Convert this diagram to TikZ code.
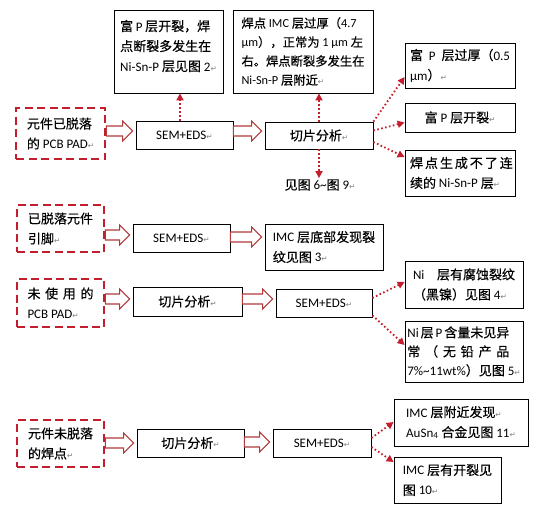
\documentclass[tikz,border=0pt]{standalone}
\usepackage{fontspec}
\setmainfont{Carlito}
\newfontfamily\cjk{Noto Sans CJK SC}[FakeBold=0.35]
\newfontfamily\djv{DejaVu Sans}
\usetikzlibrary{arrows.meta,calc}
% automatic CJK font switching
\XeTeXinterchartokenstate=1
\newXeTeXintercharclass\CJKcls
\newcount\cjkc
\def\setcjkrange#1#2{\cjkc=#1\relax\loop\XeTeXcharclass\cjkc=\CJKcls\relax\ifnum\cjkc<#2\advance\cjkc by 1\relax\repeat}
\setcjkrange{"3000}{"303F}
\setcjkrange{"4E00}{"9FFF}
\setcjkrange{"FF00}{"FFEF}
\XeTeXinterchartoks 0 \CJKcls = {\begingroup\cjk}
\XeTeXinterchartoks 4095 \CJKcls = {\begingroup\cjk}
\XeTeXinterchartoks \CJKcls 0 = {\endgroup}
\XeTeXinterchartoks \CJKcls 4095 = {\endgroup}
\definecolor{dred}{RGB}{195,30,45}
\definecolor{arrred}{RGB}{178,58,58}
\newcommand\ret{{\djv\fontsize{7.5}{8}\selectfont\color{gray}↵}}
\newcommand\fatarrow[3]{%
  \draw[fatarr] let \p1=(#1.east), \p2=(#2.west), \p3=(0,#3) in
   (\x1,\y3+5pt) -- (\x2-13pt,\y3+5pt) -- (\x2-13pt,\y3+10pt) -- (\x2-3pt,\y3)
   -- (\x2-13pt,\y3-10pt) -- (\x2-13pt,\y3-5pt) -- (\x1,\y3-5pt) -- cycle;}
\tikzset{
  every node/.style={font=\fontsize{13}{20}\selectfont, inner sep=0pt},
  box/.style={draw=black, line width=0.8pt, fill=white, align=left},
  dbox/.style={draw=dred, line width=2.6pt, dash pattern=on 8pt off 4.5pt, align=left},
  dotarr/.style={draw=dred, line width=1.8pt, dash pattern=on 1.6pt off 2.4pt,
     -{Triangle[length=7pt,width=7pt]}},
  fatarr/.style={draw=arrred, line width=1.1pt, fill=white, line join=miter}
}
\begin{document}
\begin{tikzpicture}[x=1pt,y=-1pt]
\useasboundingbox (0,0) rectangle (534,517);
% ---------- row 1
\node[dbox, minimum width=89pt, minimum height=51pt] (d1) at (60.5,133.5) {元件已脱落\\的 PCB PAD\ret};
\node[box, minimum width=97pt, minimum height=28pt] (s1) at (184.5,135) {SEM+EDS\ret};
\node[box, minimum width=108pt, minimum height=27pt] (q1) at (319,135.5) {切片分析\ret};
\node[box, minimum width=109pt, minimum height=83pt] (t1) at (168.5,51.5) {\makebox[90pt][s]{富 P 层开裂，焊}\\点断裂多发生在\\Ni-Sn-P 层见图 2\ret\\[-8pt]\mbox{}};
\node[box, minimum width=140pt, minimum height=83pt, font=\fontsize{12.3}{19}\selectfont] (t2) at (303,51.5) {焊点 IMC 层过厚（4.7\\μm），正常为 1 μm 左\\右。焊点断裂多发生在\\Ni-Sn-P 层附近\ret};
\node[box, minimum width=110pt, minimum height=45pt] (r1) at (460,65.5) {\makebox[100pt][s]{富 P 层过厚（0.5}\\μm）\ret};
\node[box, minimum width=110pt, minimum height=29pt] (r2) at (460,117.5) {富 P 层开裂\ret};
\node[box, minimum width=110pt, minimum height=46pt] (r3) at (460,173) {\makebox[100pt][s]{焊 点 生 成 不 了 连}\\续的 Ni-Sn-P 层\ret};
\node (f1) at (320,185) {见图 6\textasciitilde 图 9\ret};
\fatarrow{d1}{s1}{131}
\fatarrow{s1}{q1}{131}
\draw[dotarr] ([xshift=-4.5pt]s1.north) -- ([xshift=-4.5pt]s1.north |- t1.south);
\draw[dotarr] (q1.north) -- (q1.north |- t2.south);
\draw[dotarr, shorten >=1pt] (q1.south) -- (q1.south |- f1.north);
\draw[dotarr] (q1.north east) -- ([yshift=-11.5pt]r1.west);
\draw[dotarr] ([yshift=5pt]q1.east) -- ([yshift=-5pt]r2.west);
\draw[dotarr] ([yshift=-6.5pt]q1.east) -- ([yshift=16pt]r3.west);
% ---------- row 2
\node[dbox, minimum width=87pt, minimum height=47pt] (d2) at (60.5,228.5) {已脱落元件\\引脚\ret\hspace{36pt}};
\node[box, minimum width=97pt, minimum height=28pt] (s2) at (181.5,238) {SEM+EDS\ret};
\node[box, minimum width=118pt, minimum height=46pt] (m2) at (324,247) {IMC 层底部发现裂\\纹见图 3\ret};
\fatarrow{d2}{s2}{235}
\fatarrow{s2}{m2}{237}
% ---------- row 3
\node[dbox, minimum width=87pt, minimum height=48pt] (d3) at (60.5,303) {\makebox[66pt][s]{未 使 用 的}\\PCB PAD\ret};
\node[box, minimum width=109pt, minimum height=29pt] (q3) at (187.5,301.5) {切片分析\ret};
\node[box, minimum width=96pt, minimum height=28pt] (s3) at (324,303) {SEM+EDS\ret};
\node[box, minimum width=118pt, minimum height=47pt] (n1) at (464,284.5) {\makebox[102pt][s]{Ni 层有腐蚀裂纹}\\（黑镍）见图 4\ret};
\node[box, minimum width=118pt, minimum height=61pt, font=\fontsize{13}{19}\selectfont] (n2) at (464,351.5) {\makebox[102pt][s]{Ni 层 P 含量未见异}\\\makebox[102pt][s]{常 （ 无 铅 产 品}\\7\%\textasciitilde 11wt\%）见图 5\ret};
\fatarrow{d3}{q3}{299}
\fatarrow{q3}{s3}{299}
\draw[dotarr] ([yshift=5pt]s3.east) -- ([yshift=2.5pt]n1.west);
\draw[dotarr] ([yshift=2pt]s3.south east) -- ([yshift=6.5pt]n2.west);
% ---------- row 4
\node[dbox, minimum width=87pt, minimum height=47pt] (d4) at (60.5,443.5) {元件未脱落\\的焊点\ret};
\node[box, minimum width=107pt, minimum height=28pt] (q4) at (190.5,443) {切片分析\ret};
\node[box, minimum width=98pt, minimum height=28pt] (s4) at (322,443) {SEM+EDS\ret};
\node[box, minimum width=134pt, minimum height=47pt] (u1) at (461,422.5) {IMC 层附近发现\ret\\AuSn\textsubscript{4} 合金见图 11\ret};
\node[box, minimum width=107pt, minimum height=46pt] (u2) at (447.5,480) {IMC 层有开裂见\\图 10\ret};
\fatarrow{d4}{q4}{443}
\fatarrow{q4}{s4}{442}
\draw[dotarr] ([yshift=5pt]s4.east) -- ([yshift=0.5pt]u1.west);
\draw[dotarr] ([yshift=-4pt]s4.east) -- ([yshift=18pt]u2.west);
\end{tikzpicture}
\end{document}
